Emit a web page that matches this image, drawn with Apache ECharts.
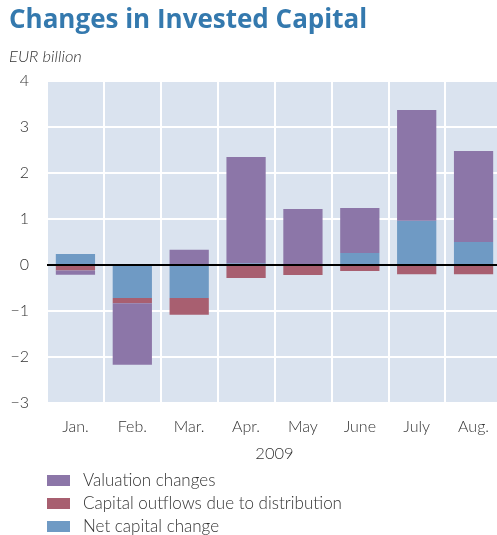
<!DOCTYPE html>
<html>
<head>
<meta charset="utf-8">
<title>Changes in Invested Capital</title>
<script src="https://cdn.jsdelivr.net/npm/echarts@6/dist/echarts.min.js"></script>
<style>
  html, body { margin: 0; padding: 0; background: #fff; }
  #chart { width: 497px; height: 535px; }
</style>
</head>
<body>
<div id="chart"></div>
<script>
// 月份
const months = ['Jan.', 'Feb.', 'Mar.', 'Apr.', 'May', 'June', 'July', 'Aug.'];
// 估值变化
const valuationChanges = [-0.09, -1.34, 0.33, 2.31, 1.22, 0.98, 2.41, 1.98];
// 分配导致的资本流出
const capitalOutflows = [-0.12, -0.11, -0.36, -0.28, -0.22, -0.13, -0.2, -0.2];
// 净资本变化
const netCapitalChange = [0.24, -0.72, -0.72, 0.04, 0, 0.26, 0.96, 0.5];
// 纵轴刻度
const yTicks = [-3, -2, -1, 0, 1, 2, 3, 4];

const labelFont = 'Lato';
const textColor = '#333333';

const chart = echarts.init(document.getElementById('chart'));

const option = {
  animation: false,
  title: [{
    text: 'Changes in Invested Capital',
    left: 9,
    top: 8,
    padding: 0,
    textStyle: {
      fontFamily: 'Open Sans',
      fontWeight: 'bold',
      fontSize: 26,
      color: '#3479AE'
    }
  }, {
    text: 'EUR billion',
    left: 9,
    top: 48,
    padding: 0,
    textStyle: {
      fontFamily: labelFont,
      fontStyle: 'italic',
      fontWeight: 300,
      fontSize: 16.5,
      color: textColor
    }
  }],
  /* 图例 */
  legend: {
    orient: 'vertical',
    left: 47,
    top: 472,
    height: 100,
    padding: 0,
    itemWidth: 23,
    itemHeight: 11,
    itemGap: 6,
    icon: 'rect',
    data: ['Valuation changes', 'Capital outflows due to distribution', 'Net capital change'],
    textStyle: {
      fontFamily: labelFont,
      fontWeight: 300,
      fontSize: 17,
      lineHeight: 17,
      color: textColor,
      padding: [0, 0, 0, 8]
    }
  },
  grid: {
    left: 47,
    right: -5,
    top: 81,
    bottom: 132,
    outerBoundsMode: 'none',
    show: true,
    backgroundColor: '#DAE3EF',
    borderWidth: 0
  },
  xAxis: {
    type: 'category',
    data: months,
    name: '2009',
    nameLocation: 'middle',
    nameGap: 42,
    nameTextStyle: {
      fontFamily: labelFont,
      fontWeight: 300,
      fontSize: 16.5,
      color: textColor
    },
    axisLine: { show: false, onZero: false },
    axisTick: { show: false },
    axisLabel: {
      fontFamily: labelFont,
      fontWeight: 300,
      fontSize: 16,
      color: textColor,
      margin: 16
    },
    splitLine: {
      show: true,
      lineStyle: { color: '#fff', width: 2 }
    }
  },
  yAxis: {
    type: 'value',
    min: yTicks[0],
    max: yTicks[yTicks.length - 1],
    interval: 1,
    axisLine: { show: false },
    axisTick: { show: false },
    axisLabel: {
      fontFamily: labelFont,
      fontWeight: 300,
      fontSize: 16,
      color: textColor,
      margin: 18,
      padding: [4, 0, 0, 0],
      formatter: function (v) {
        return String(v).replace('-', '\u2212');
      }
    },
    splitLine: {
      lineStyle: { color: '#fff', width: 2 }
    }
  },
  series: [{
    name: 'Net capital change',
    type: 'bar',
    stack: 'total',
    barWidth: '69%',
    itemStyle: { color: '#6F9AC4' },
    data: netCapitalChange,
    /* 零线 */
    markLine: {
      silent: true,
      symbol: 'none',
      label: { show: false },
      lineStyle: { color: '#000', width: 2, type: 'solid' },
      data: [{ yAxis: 0 }]
    }
  }, {
    name: 'Capital outflows due to distribution',
    type: 'bar',
    stack: 'total',
    itemStyle: { color: '#A85F70' },
    data: capitalOutflows
  }, {
    name: 'Valuation changes',
    type: 'bar',
    stack: 'total',
    itemStyle: { color: '#8C76A8' },
    data: valuationChanges
  }]
};

chart.setOption(option);
</script>
</body>
</html>
